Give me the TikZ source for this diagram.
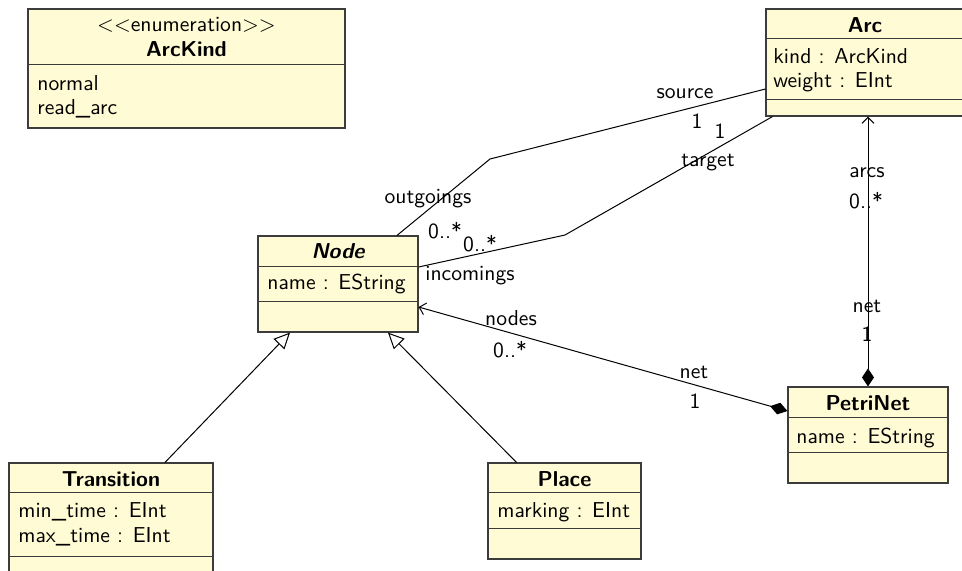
\documentclass[tikz,border=0pt]{standalone}
\usepackage{tikz}
\usetikzlibrary{arrows.meta, calc, positioning}

\definecolor{classfill}{RGB}{255,251,212}
\definecolor{classline}{RGB}{60,60,60}

\begin{document}
\begin{tikzpicture}[x=0.5pt, y=-0.5pt,
					every node/.style={font=\sffamily\fontsize{10.8}{12.5}\selectfont, inner sep=0pt, anchor=base},
					umlclass/.style={draw=classline, fill=classfill, line width=0.6pt, anchor=center},
					title/.style={font=\sffamily\bfseries\fontsize{10.8}{12.5}\selectfont},
					attr/.style={anchor=base west},
					assoc/.style={line width=0.5pt},
					compnav/.style={{Diamond[length=9pt,width=6pt]}-{Straight Barb[length=3pt,width=6pt]}},
					inherit/.style={-{Triangle[open,fill=white,length=8pt,width=7.5pt]}}]
				\useasboundingbox (0,0) rectangle (962,570);

				% class boxes
				\node[umlclass, minimum width=158.5pt, minimum height=59.5pt] (kind)  at (186.5,68.5) {};
				\node[umlclass, minimum width=99.5pt,  minimum height=53.5pt] (arc)   at (865.5,62.5) {};
				\node[umlclass, minimum width=80pt,    minimum height=48pt]   (node)  at (338,284) {};
				\node[umlclass, minimum width=80pt,    minimum height=48pt]   (petri) at (868,435) {};
				\node[umlclass, minimum width=102pt,   minimum height=56pt]   (trans) at (111,519) {};
				\node[umlclass, minimum width=76.5pt,  minimum height=48pt]   (place) at (564.5,511) {};
				\foreach \cls/\off in {kind/28pt, arc/15pt, arc/45.5pt, node/15.5pt, node/33pt,
										petri/15.5pt, petri/33pt, trans/15pt, trans/47pt, place/15pt, place/33pt}
					\draw[draw=classline, line width=0.6pt] ([yshift=-\off]\cls.north west) -- ([yshift=-\off]\cls.north east);

				% texts
				\node (kindst) at (186.5,31) {\mbox{<}\mbox{<}enumeration\mbox{>}\mbox{>}};
				\node[title] (kindname) at (186.5,56) {ArcKind};
				\node[attr] (normal) at (37,90) {normal};
				\node[attr] (readarc) at (37,114) {read\_arc};

				\node[title] (arcname) at (865,32) {Arc};
				\node[attr] (arckind) at (773,63) {kind : ArcKind};
				\node[attr] (arcweight) at (773,87) {weight : EInt};

				\node[title, font=\sffamily\bfseries\itshape\fontsize{10.8}{12.5}\selectfont] (nodename) at (338,258) {Node};
				\node[attr] (nodeattr) at (267,289) {name : EString};

				\node[title] (petriname) at (868,410) {PetriNet};
				\node[attr] (petriattr) at (796,443) {name : EString};

				\node[title] (transname) at (111,486) {Transition};
				\node[attr] (transmin) at (18,517) {min\_time : EInt};
				\node[attr] (transmax) at (18,542) {max\_time : EInt};

				\node[title] (placename) at (564.5,486) {Place};
				\node[attr] (placeattr) at (497,517) {marking : EInt};

				% associations
				\coordinate (srcbend) at (490,159);
				\coordinate (tgtbend) at (565,235);
				\draw[assoc] ([yshift=-13.25pt]arc.west) -- (srcbend) -- ([xshift=29.5pt]node.north);
				\draw[assoc] ([xshift=3.5pt]arc.south west) -- (tgtbend) -- ([yshift=8.5pt]node.east);
				\draw[assoc, compnav] ([yshift=12pt]petri.west) -- ([yshift=-11.5pt]node.east);
				\draw[assoc, compnav] (petri.north) -- (petri.north |- arc.south);

				\node (lsource) at (685,98) {source};
				\node (lsrcone) at (697,128) {1};
				\node (loutgo) at (428,203) {outgoings};
				\node (loutmany) at (445,238) {0..*};
				\node (ltarget) at (708,166) {target};
				\node (ltgtone) at (720,138) {1};
				\node (linmany) at (480,251) {0..*};
				\node (lincom) at (470,280) {incomings};
				\node (lnodes) at (511,325) {nodes};
				\node (lnodesmany) at (510,357) {0..*};
				\node (lnet) at (694,378) {net};
				\node (lnetone) at (695,408) {1};
				\node (larcs) at (867,177) {arcs};
				\node (larcsmany) at (866,208) {0..*};
				\node (lnettwo) at (867,312) {net};
				\node (lnettwoone) at (867,341) {1};

				% generalisations
				\draw[assoc, inherit] ([xshift=27pt]trans.north) -- ([xshift=-24pt]node.south);
				\draw[assoc, inherit] ([xshift=-24pt]place.north) -- ([xshift=25pt]node.south);
			\end{tikzpicture}
\end{document}
